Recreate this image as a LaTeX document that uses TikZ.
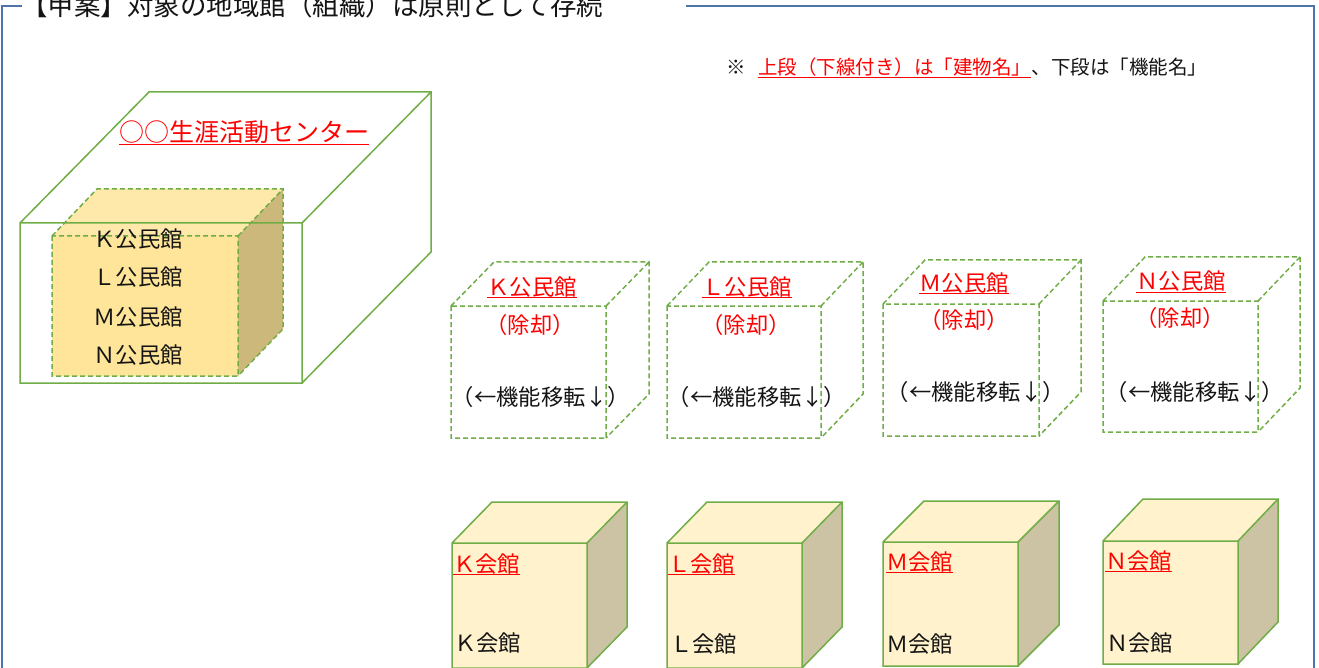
\documentclass[tikz,border=0pt]{standalone}
\usepackage{fontspec}
\setmainfont{Noto Sans CJK JP}
\definecolor{grn}{RGB}{112,173,71}
\definecolor{frameblue}{RGB}{79,116,168}
\definecolor{txt}{RGB}{20,20,20}
\definecolor{infront}{RGB}{255,229,153}
\definecolor{intop}{RGB}{255,233,170}
\definecolor{inside}{RGB}{204,184,122}
\definecolor{kfront}{RGB}{255,242,204}
\definecolor{kside}{RGB}{204,194,164}
\newcommand{\drawcube}[6]{%
  \path[cubefront] (#1,#2) rectangle (#3,#4);
  \path[cubetop] (#1,#2) -- ({#1+#5},{#2-#6}) -- ({#3+#5},{#2-#6}) -- (#3,#2) -- cycle;
  \path[cubeside] (#3,#2) -- ({#3+#5},{#2-#6}) -- ({#3+#5},{#4-#6}) -- (#3,#4) -- cycle;
  \path[cubeedge] (#1,#2) rectangle (#3,#4)
    (#1,#2) -- ({#1+#5},{#2-#6}) -- ({#3+#5},{#2-#6}) -- ({#3+#5},{#4-#6}) -- (#3,#4)
    (#3,#2) -- ({#3+#5},{#2-#6});
}
\tikzset{
  cubefront/.style={}, cubetop/.style={}, cubeside/.style={}, cubeedge/.style={draw=grn, line width=1.5pt},
  dashedge/.style={draw=grn, line width=1.5pt, dash pattern=on 5pt off 3pt},
  solidedge/.style={draw=grn, line width=1.5pt, line join=miter},
  lbl/.style={inner sep=0pt, text=txt, font=\fontsize{22.3}{25}\selectfont},
  redlbl/.style={inner sep=0pt, text=red, font=\fontsize{22.3}{25}\selectfont},
  ulred/.style={draw=red, line width=1.3pt},
}
\newcommand{\ul}[1]{\draw[ulred] ([yshift=-2.5pt]#1.base west) -- ([yshift=-2.5pt]#1.base east);}
\begin{document}
\begin{tikzpicture}[x=1pt,y=-1pt]
\useasboundingbox (0,0) rectangle (1319,668);
\clip (0,0) rectangle (1319,668);
\fill[white] (0,0) rectangle (1319,668);

% outer frame
\draw[frameblue, line width=2pt] (2,668) -- (2,6) -- (22,6);
\draw[frameblue, line width=2pt] (686,6) -- (1314,6) -- (1314,668);
\node[inner sep=0pt, anchor=base west, text=txt, font=\fontsize{26.5}{29}\selectfont] (title) at (21,16) {【甲案】対象の地域館（組織）は原則として存続};

% note
\node[inner sep=0pt, anchor=base, text=txt, font=\fontsize{19.5}{22}\selectfont] (kome) at (736,75) {※};
\node[inner sep=0pt, anchor=base west, text=red, font=\fontsize{19.5}{22}\selectfont] (notered) at (758,75) {上段（下線付き）は「建物名」};
\node[inner sep=0pt, anchor=base west, text=txt, font=\fontsize{19.5}{22}\selectfont] (noteblk) at (notered.base east) {、下段は「機能名」};
\ul{notered}

% inner cube (dashed, yellow)
\begin{scope}[cubefront/.style={fill=infront}, cubetop/.style={fill=intop}, cubeside/.style={fill=inside}, cubeedge/.style={dashedge}]
\drawcube{52}{236}{238}{376}{45}{47}
\end{scope}
% big cube
\begin{scope}[cubeedge/.style={solidedge}]
\drawcube{20}{223}{302}{383}{129}{131}
\end{scope}
\node[redlbl, anchor=base, font=\fontsize{25}{28}\selectfont] (center) at (244,142) {○○生涯活動センター};
\ul{center}
\node[lbl, anchor=base] (ik) at (138,248) {Ｋ公民館};
\node[lbl, anchor=base] (il) at (138,285) {Ｌ公民館};
\node[lbl, anchor=base] (im) at (138,325) {Ｍ公民館};
\node[lbl, anchor=base] (in) at (138,363) {Ｎ公民館};

% top row dashed cubes
\begin{scope}[cubeedge/.style={dashedge}]
\drawcube{451}{306}{606}{438}{43}{44}
\drawcube{667}{306}{821}{438}{42}{44}
\drawcube{883}{304}{1039}{436}{42}{44}
\drawcube{1103}{301}{1258}{432}{42}{44}
\end{scope}
\node[redlbl, anchor=base] (tk) at (532,295) {Ｋ公民館}; \ul{tk}
\node[redlbl, anchor=base] (tl) at (747,295) {Ｌ公民館}; \ul{tl}
\node[redlbl, anchor=base] (tm) at (964,291) {Ｍ公民館}; \ul{tm}
\node[redlbl, anchor=base] (tn) at (1181,290) {Ｎ公民館}; \ul{tn}
\node[redlbl, anchor=base] (dk) at (530,333) {（除却）};
\node[redlbl, anchor=base] (dl) at (746,333) {（除却）};
\node[redlbl, anchor=base] (dm) at (964,328) {（除却）};
\node[redlbl, anchor=base] (dn) at (1180,326) {（除却）};
\node[lbl, anchor=base] (fk) at (541,405) {（←機能移転↓）};
\node[lbl, anchor=base] (fl) at (757,405) {（←機能移転↓）};
\node[lbl, anchor=base] (fm) at (976,400) {（←機能移転↓）};
\node[lbl, anchor=base] (fn) at (1195,400) {（←機能移転↓）};

% bottom row solid cubes
\begin{scope}[cubefront/.style={fill=kfront}, cubetop/.style={fill=kfront}, cubeside/.style={fill=kside}, cubeedge/.style={solidedge}]
\drawcube{452}{543}{587}{668}{40}{41}
\drawcube{667}{543}{802}{668}{40}{41}
\drawcube{883}{542}{1018}{666}{41}{41}
\drawcube{1103}{541}{1238}{664}{40}{42}
\end{scope}
\node[redlbl, anchor=base west] (bk) at (453,572) {Ｋ会館}; \ul{bk}
\node[redlbl, anchor=base west] (bl) at (668,572) {Ｌ会館}; \ul{bl}
\node[redlbl, anchor=base west] (bm) at (886,570) {Ｍ会館}; \ul{bm}
\node[redlbl, anchor=base west] (bn) at (1105,569) {Ｎ会館}; \ul{bn}
\node[lbl, anchor=base west] (ck) at (454,651) {Ｋ会館};
\node[lbl, anchor=base west] (cl) at (670,652) {Ｌ会館};
\node[lbl, anchor=base west] (cm) at (886,652) {Ｍ会館};
\node[lbl, anchor=base west] (cn) at (1106,651) {Ｎ会館};
\end{tikzpicture}
\end{document}
